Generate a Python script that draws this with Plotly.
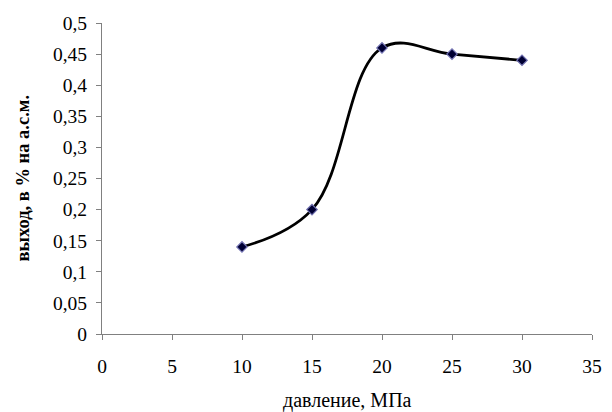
import plotly.graph_objects as go

pressure = [10, 15, 20, 25, 30]
yield_pct = [0.14, 0.20, 0.46, 0.45, 0.44]

x_ticks = [0, 5, 10, 15, 20, 25, 30, 35]
y_ticks = [0, 0.05, 0.1, 0.15, 0.2, 0.25, 0.3, 0.35, 0.4, 0.45, 0.5]
y_tick_labels = ["0", "0,05", "0,1", "0,15", "0,2", "0,25", "0,3", "0,35", "0,4", "0,45", "0,5"]

x_title = "давление, МПа"
y_title = "выход, в % на а.с.м."

font_family = "Liberation Serif"

fig = go.Figure()
fig.add_trace(go.Scatter(
    x=pressure, y=yield_pct,
    mode="lines+markers",
    line=dict(color="black", width=2.8, shape="spline", smoothing=1.1),
    marker=dict(symbol="diamond", size=8, color="#000033",
                line=dict(color="#7070b0", width=1.2)),
    showlegend=False,
))

axis_common = dict(
    showline=True, linecolor="#808080", linewidth=1,
    ticks="outside", ticklen=5, tickcolor="#808080", tickwidth=1,
    showgrid=False, zeroline=False,
    tickfont=dict(family=font_family, size=19.5, color="black"),
)

fig.update_layout(
    width=612, height=412,
    margin=dict(l=102, r=10, t=23, b=78),
    paper_bgcolor="white", plot_bgcolor="white",
    font=dict(family=font_family, color="black"),
    xaxis=dict(range=[0, 35], tickvals=x_ticks, ticktext=[str(v) for v in x_ticks],
               ticklabelstandoff=10, **axis_common),
    yaxis=dict(range=[0, 0.5], tickvals=y_ticks, ticktext=y_tick_labels,
               ticklabelstandoff=5, **axis_common),
    annotations=[
        dict(text=x_title, xref="paper", yref="paper", x=0.5, y=0,
             yshift=-66.5, xanchor="center", yanchor="middle", showarrow=False,
             font=dict(family=font_family, size=20, color="black")),
        dict(text="<b>" + y_title + "</b>", xref="paper", yref="paper", x=0, y=0.5,
             xshift=-80, xanchor="center", yanchor="middle", textangle=-90, showarrow=False,
             font=dict(family=font_family, size=18.5, color="black")),
    ],
)

fig.write_html("out.html")
